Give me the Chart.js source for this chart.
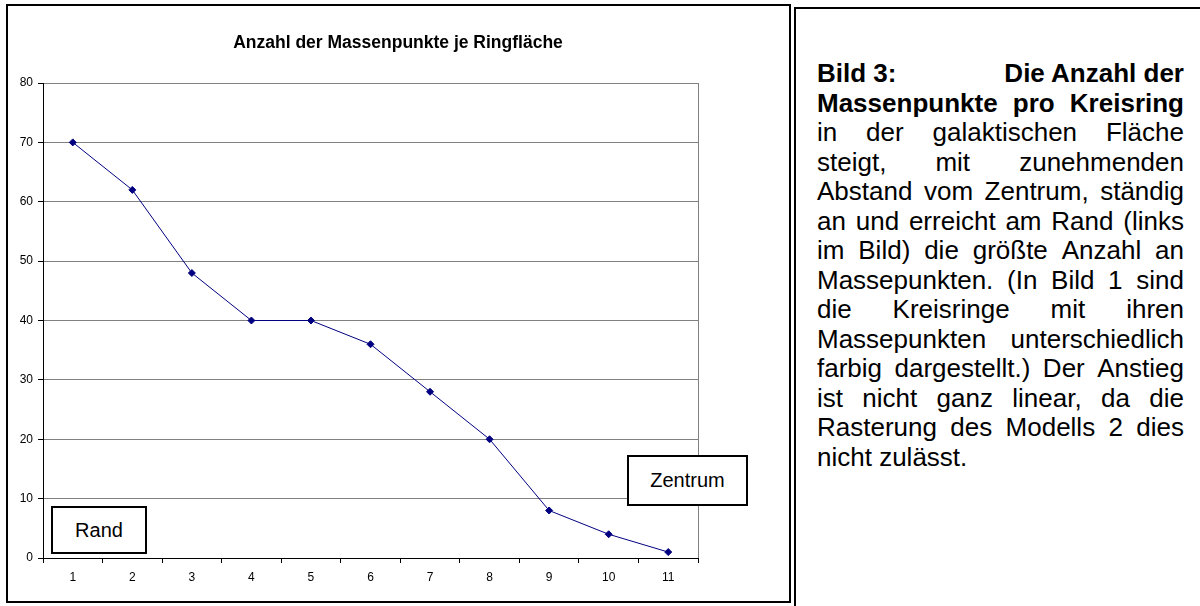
<!DOCTYPE html>
<html>
<head>
<meta charset="utf-8">
<script src="https://cdn.jsdelivr.net/npm/chart.js@4.4.1/dist/chart.umd.min.js"></script>
<style>
  html, body { margin: 0; padding: 0; background: #fff; width: 1200px; height: 606px; overflow: hidden; }
  body { position: relative; font-family: "Liberation Sans", Arial, sans-serif; color: #000; }
  #leftBox { position: absolute; left: 6px; top: 4px; width: 781px; height: 595px; border: 2px solid #000; }
  #rightBox { position: absolute; left: 794px; top: 7px; width: 420px; height: 620px; border: 2px solid #000; }
  #wrap { position: absolute; left: 0; top: 0; width: 790px; height: 606px; }
  .note { position: absolute; background: #fff; border: 2px solid #000; box-sizing: border-box;
          display: flex; align-items: center; justify-content: center; font-size: 20px; }
  #rand { left: 51px; top: 506px; width: 96px; height: 48px; }
  #zentrum { left: 627px; top: 455px; width: 121px; height: 51px; }
  #text { position: absolute; left: 817px; top: 59px; width: 367px; font-size: 26px; line-height: 29.5px; }
  .ln { display: flex; justify-content: space-between; white-space: pre; height: 29.5px; }
  .ln.last { justify-content: flex-start; }
  b { font-weight: bold; }
</style>
</head>
<body>
<div id="leftBox"></div>
<div id="rightBox"></div>
<div id="wrap"><canvas id="c" width="790" height="606"></canvas></div>
<div class="note" id="rand">Rand</div>
<div class="note" id="zentrum">Zentrum</div>
<div id="text"></div>
<script>
// ---- data ----
const chartTitle = 'Anzahl der Massenpunkte je Ringfläche';
const categories = ['1', '2', '3', '4', '5', '6', '7', '8', '9', '10', '11'];
const massPoints = [70, 62, 48, 40, 40, 36, 28, 20, 8, 4, 1];
const yTicks = [0, 10, 20, 30, 40, 50, 60, 70, 80];
const captionLines = [
  ['b', 'Bild 3:', 'Die Anzahl der'],
  ['b', 'Massenpunkte pro Kreisring'],
  ['n', 'in der galaktischen Fläche'],
  ['n', 'steigt, mit zunehmenden'],
  ['n', 'Abstand vom Zentrum, ständig'],
  ['n', 'an und erreicht am Rand (links'],
  ['n', 'im Bild) die größte Anzahl an'],
  ['n', 'Massepunkten. (In Bild 1 sind'],
  ['n', 'die Kreisringe mit ihren'],
  ['n', 'Massepunkten unterschiedlich'],
  ['n', 'farbig dargestellt.) Der Anstieg'],
  ['n', 'ist nicht ganz linear, da die'],
  ['n', 'Rasterung des Modells 2 dies'],
  ['last', 'nicht zulässt.']
];

// ---- caption text (justified line by line) ----
const textEl = document.getElementById('text');
captionLines.forEach(line => {
  const d = document.createElement('div');
  d.className = 'ln' + (line[0] === 'last' ? ' last' : '');
  let parts;
  if (line[0] === 'b' && line.length === 3) parts = [line[1], line[2]];
  else if (line[0] === 'last') parts = [line[1]];
  else parts = line[1].split(' ');
  parts.forEach(p => {
    const s = document.createElement(line[0] === 'b' ? 'b' : 'span');
    s.textContent = p;
    d.appendChild(s);
  });
  textEl.appendChild(d);
});

// ---- chart ----
Chart.defaults.font.family = '"Liberation Sans", Arial, sans-serif';
Chart.defaults.color = '#000';

const titlePlugin = {
  id: 'customTitle',
  afterDraw(chart) {
    const ctx = chart.ctx;
    ctx.save();
    ctx.font = 'bold 17.5px "Liberation Sans", Arial, sans-serif';
    ctx.fillStyle = '#000';
    ctx.textAlign = 'center';
    ctx.textBaseline = 'middle';
    ctx.fillText(chartTitle, 398, 43);
    ctx.restore();
  }
};

new Chart(document.getElementById('c'), {
  type: 'line',
  data: {
    labels: categories,
    datasets: [{
      data: massPoints,
      borderColor: '#000080',
      backgroundColor: '#000080',
      borderWidth: 1,
      pointStyle: 'rectRot',
      pointRadius: 3.5,
      pointHoverRadius: 3.5,
      pointBackgroundColor: '#000080',
      pointBorderColor: '#000080',
      pointBorderWidth: 1,
      tension: 0,
      fill: false
    }]
  },
  options: {
    responsive: false,
    animation: false,
    events: [],
    layout: { padding: { left: 8, top: 83, right: 92, bottom: 18 } },
    plugins: { legend: { display: false }, title: { display: false }, tooltip: { enabled: false } },
    scales: {
      x: {
        type: 'category',
        offset: true,
        afterFit: s => { s.height = 30; },
        grid: {
          offset: true,
          drawOnChartArea: true,
          color: c => (c.tick ? 'rgba(0,0,0,0)' : '#808080'),
          tickColor: '#000',
          tickLength: 5,
          lineWidth: 1
        },
        border: { color: '#000', width: 1 },
        ticks: { font: { size: 12 }, color: '#000', padding: 7, maxRotation: 0 }
      },
      y: {
        min: 0,
        max: 80,
        afterFit: s => { s.width = 35; },
        afterBuildTicks: s => { s.ticks = yTicks.map(v => ({ value: v })); },
        grid: { color: '#808080', tickColor: '#000', tickLength: 5, lineWidth: 1 },
        border: { color: '#000', width: 1 },
        ticks: { font: { size: 12 }, color: '#000', padding: 5, stepSize: 10 }
      }
    }
  },
  plugins: [titlePlugin]
});
</script>
</body>
</html>
